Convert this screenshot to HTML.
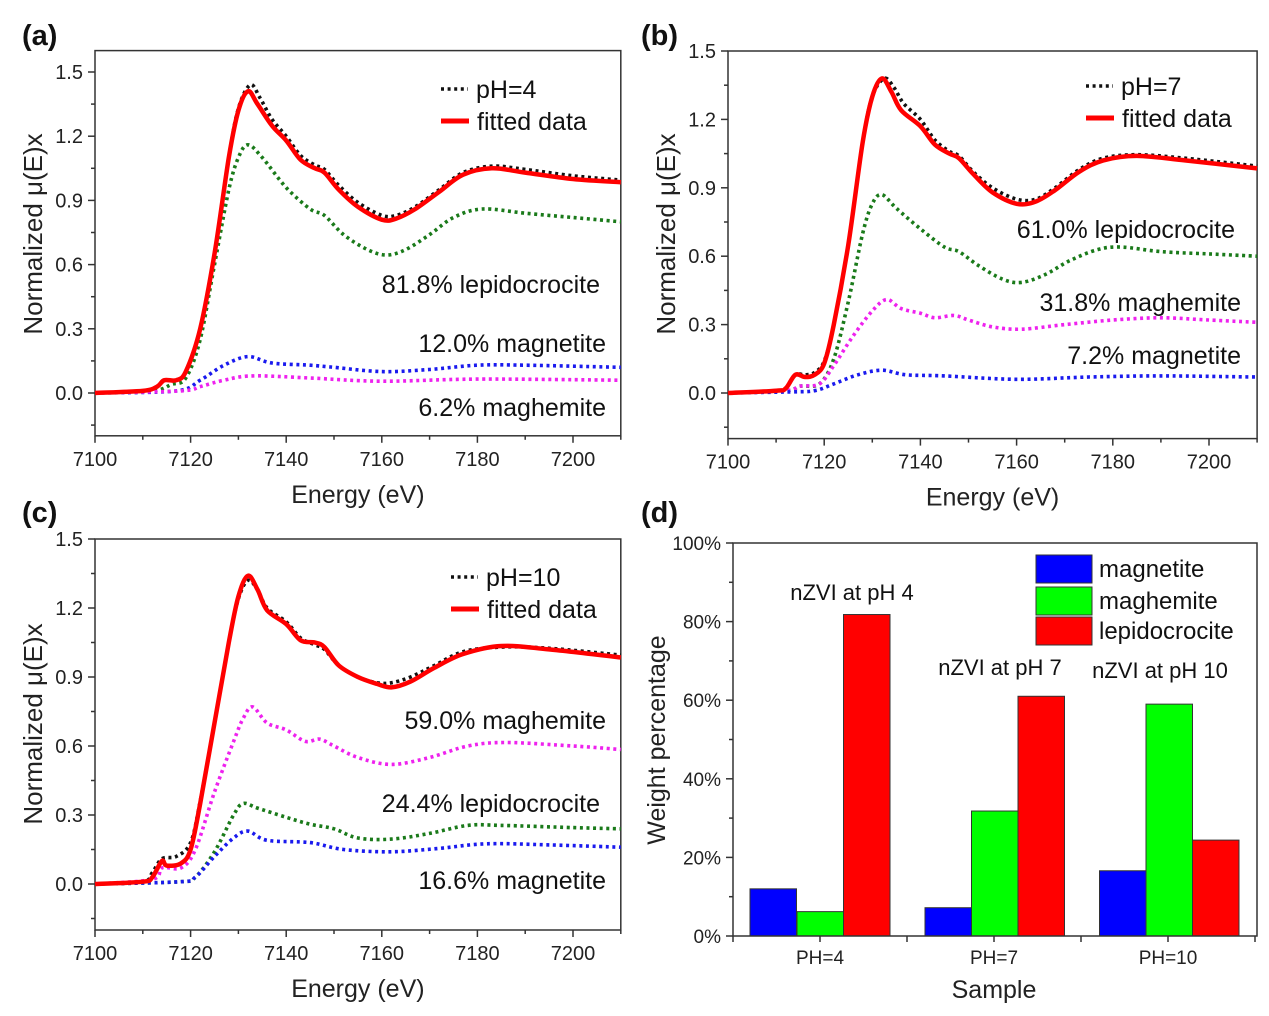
<!DOCTYPE html>
<html><head><meta charset="utf-8"><style>
html,body{margin:0;padding:0;background:#fff;}
svg{display:block;font-family:"Liberation Sans",sans-serif;}
</style></head><body>
<svg id="s" width="1269" height="1016" xmlns="http://www.w3.org/2000/svg"></svg>
<script>
const S=document.getElementById('s');let h='';
function cr(pts){let d='M'+pts[0][0].toFixed(1)+' '+pts[0][1].toFixed(1);
for(let i=0;i<pts.length-1;i++){const p0=pts[i-1]||pts[i],p1=pts[i],p2=pts[i+1],p3=pts[i+2]||p2;
const c1=[p1[0]+(p2[0]-p0[0])/6,p1[1]+(p2[1]-p0[1])/6],c2=[p2[0]-(p3[0]-p1[0])/6,p2[1]-(p3[1]-p1[1])/6];
d+=` C${c1[0].toFixed(1)} ${c1[1].toFixed(1)} ${c2[0].toFixed(1)} ${c2[1].toFixed(1)} ${p2[0].toFixed(1)} ${p2[1].toFixed(1)}`;}return d;}
function panel(P){
 const X=e=>P.x0+(e-7100)*P.sx, Y=v=>P.y0-v*P.sy;
 const L=X(7100),R=X(7210),T=Y(P.ymax),B=Y(-0.2);
 h+=`<rect x="${L}" y="${T}" width="${R-L}" height="${B-T}" fill="none" stroke="#333" stroke-width="1.5"/>`;
 for(let e=7100;e<=7210;e+=10){const x=X(e);h+=`<line x1="${x}" y1="${B}" x2="${x}" y2="${B+(e%20==0?7:4)}" stroke="#333" stroke-width="1.5"/>`;
  if(e%20==0)h+=`<text x="${x}" y="${B+30}" font-size="20" text-anchor="middle" fill="#222">${e}</text>`;}
 for(let v=-0.15;v<=P.ymax+0.001;v+=0.15){const y=Y(v);const maj=Math.abs(Math.round(v/0.3)*0.3-v)<0.01;
  h+=`<line x1="${L}" y1="${y}" x2="${L-(maj?7:4)}" y2="${y}" stroke="#333" stroke-width="1.5"/>`;
  if(maj)h+=`<text x="${L-12}" y="${y+7}" font-size="20" text-anchor="end" fill="#222">${v.toFixed(1).replace('-0.0','0.0')}</text>`;}
 h+=`<text x="${(L+R)/2}" y="${B+67}" font-size="25" text-anchor="middle" fill="#222">Energy (eV)</text>`;
 h+=`<text transform="translate(${L-53},${P.yc}) rotate(-90)" font-size="26" text-anchor="middle" fill="#222">Normalized μ(E)x</text>`;
 h+=`<text x="${P.lx}" y="${P.ly}" font-size="29" font-weight="bold" fill="#111">${P.lab}</text>`;
 for(const c of P.curves){const pts=c.p.map(q=>[X(q[0]),Y(q[1])]);
  if(c.solid)h+=`<path d="${cr(pts)}" fill="none" stroke="#f00" stroke-width="4.5" stroke-linejoin="round"/>`;
  else h+=`<path d="${cr(pts)}" fill="none" stroke="${c.c}" stroke-width="3.6" stroke-dasharray="3 3.6"/>`;}
 const g=P.leg;
 h+=`<line x1="${g[0]}" y1="${g[1]}" x2="${g[0]+27}" y2="${g[1]}" stroke="#111" stroke-width="3.6" stroke-dasharray="3 3.6"/>`;
 h+=`<text x="${g[0]+35}" y="${g[1]+9}" font-size="25" fill="#111">${P.name}</text>`;
 h+=`<line x1="${g[0]}" y1="${g[1]+32}" x2="${g[0]+28}" y2="${g[1]+32}" stroke="#f00" stroke-width="5"/>`;
 h+=`<text x="${g[0]+36}" y="${g[1]+41}" font-size="25" fill="#111">fitted data</text>`;
 for(const a of P.ann)h+=`<text x="${a[0]}" y="${a[1]}" font-size="25" text-anchor="end" fill="#111">${a[2]}</text>`;
}
// panel a
const aR=[[7100,0],[7110,0.01],[7113,0.03],[7114.5,0.06],[7117,0.06],[7119,0.1],[7122,0.3],[7125,0.65],[7128,1.1],[7130,1.32],[7132,1.41],[7134,1.35],[7137,1.25],[7140,1.18],[7143,1.09],[7146,1.05],[7148,1.03],[7151,0.95],[7155,0.87],[7160,0.81],[7163,0.815],[7167,0.86],[7172,0.94],[7177,1.02],[7183,1.05],[7190,1.03],[7200,1.0],[7210,0.985]];
const aK=[[7100,0],[7110,0.01],[7113,0.03],[7114.5,0.06],[7117,0.06],[7119,0.1],[7122,0.3],[7125,0.65],[7128,1.1],[7130,1.33],[7132.5,1.44],[7134.5,1.38],[7137,1.28],[7140,1.2],[7143,1.11],[7146,1.065],[7148,1.045],[7151,0.97],[7155,0.89],[7160,0.83],[7163,0.83],[7167,0.87],[7172,0.95],[7177,1.03],[7183,1.06],[7190,1.045],[7200,1.015],[7210,0.995]];
panel({x0:95,sx:4.78,y0:393,sy:214,ymax:1.6,yc:234,lab:'(a)',lx:22,ly:45,name:'pH=4',leg:[441,89],
 curves:[{c:'#1a7a1a',p:[[7100,0],[7112,0.01],[7116,0.04],[7119,0.07],[7122,0.25],[7125,0.6],[7128,0.95],[7130,1.1],[7132,1.16],[7135,1.1],[7140,0.96],[7145,0.86],[7148,0.83],[7152,0.74],[7157,0.67],[7161,0.645],[7165,0.67],[7170,0.74],[7175,0.82],[7181,0.86],[7190,0.84],[7200,0.82],[7210,0.8]]},
 {c:'#1a1aee',p:[[7100,0],[7117,0.01],[7122,0.06],[7127,0.13],[7132,0.17],[7137,0.14],[7145,0.13],[7150,0.12],[7160,0.1],[7170,0.11],[7180,0.13],[7190,0.13],[7210,0.12]]},
 {c:'#ee22ee',p:[[7100,0],[7118,0.01],[7122,0.03],[7127,0.06],[7133,0.08],[7145,0.07],[7160,0.055],[7180,0.065],[7210,0.06]]},
 {c:'#111',p:aK},{solid:1,p:aR}],
 ann:[[600,293,'81.8% lepidocrocite'],[606,352,'12.0% magnetite'],[606,416,'6.2% maghemite']]});
// panel b
const bR=[[7100,0],[7110,0.01],[7112,0.02],[7114,0.08],[7116,0.07],[7118,0.08],[7120,0.13],[7122,0.3],[7125,0.65],[7128,1.1],[7130,1.3],[7132,1.38],[7134,1.32],[7136,1.24],[7140,1.17],[7143,1.09],[7146,1.05],[7148,1.03],[7151,0.96],[7155,0.88],[7160,0.83],[7164,0.84],[7168,0.89],[7173,0.97],[7178,1.02],[7185,1.04],[7195,1.02],[7210,0.985]];
const bK=[[7100,0],[7110,0.01],[7112,0.02],[7114,0.08],[7116,0.08],[7118,0.09],[7120,0.14],[7122,0.3],[7125,0.65],[7128,1.1],[7130,1.3],[7132.5,1.38],[7134.5,1.34],[7136.5,1.27],[7140,1.2],[7143,1.11],[7146,1.06],[7148,1.04],[7151,0.97],[7155,0.9],[7160,0.85],[7164,0.85],[7168,0.9],[7173,0.98],[7178,1.03],[7185,1.045],[7195,1.03],[7210,0.995]];
panel({x0:728,sx:4.81,y0:393,sy:228,ymax:1.5,yc:234,lab:'(b)',lx:641,ly:45,name:'pH=7',leg:[1086,86],
 curves:[{c:'#1a7a1a',p:[[7100,0],[7112,0.01],[7115,0.03],[7119,0.04],[7122,0.15],[7125,0.4],[7128,0.7],[7130,0.83],[7132,0.87],[7135,0.81],[7140,0.72],[7145,0.64],[7148,0.62],[7152,0.56],[7157,0.5],[7161,0.485],[7166,0.52],[7171,0.58],[7177,0.63],[7182,0.64],[7190,0.62],[7200,0.61],[7210,0.6]]},
 {c:'#ee22ee',p:[[7100,0],[7112,0.01],[7115,0.03],[7119,0.04],[7122,0.12],[7126,0.25],[7130,0.36],[7133,0.41],[7136,0.37],[7140,0.35],[7143,0.33],[7147,0.34],[7150,0.32],[7155,0.29],[7161,0.28],[7170,0.3],[7180,0.32],[7190,0.33],[7200,0.32],[7210,0.31]]},
 {c:'#1a1aee',p:[[7100,0],[7113,0.005],[7118,0.01],[7122,0.04],[7127,0.08],[7132,0.1],[7137,0.08],[7145,0.075],[7160,0.06],[7175,0.07],[7190,0.075],[7210,0.07]]},
 {c:'#111',p:bK},{solid:1,p:bR}],
 ann:[[1235,238,'61.0% lepidocrocite'],[1241,311,'31.8% maghemite'],[1241,364,'7.2% magnetite']]});
// panel c
const cR=[[7100,0],[7110,0.01],[7112,0.03],[7114,0.1],[7115,0.08],[7118,0.09],[7120,0.15],[7122,0.35],[7125,0.7],[7128,1.05],[7130,1.25],[7132,1.34],[7134,1.28],[7136,1.19],[7140,1.13],[7143,1.06],[7146,1.05],[7148,1.03],[7151,0.95],[7155,0.9],[7159,0.87],[7162,0.855],[7166,0.88],[7171,0.94],[7177,1.0],[7185,1.035],[7195,1.02],[7210,0.985]];
const cK=[[7100,0],[7110,0.01],[7112,0.05],[7114,0.11],[7117,0.12],[7120,0.18],[7122,0.36],[7125,0.7],[7128,1.05],[7130,1.24],[7132,1.32],[7134,1.28],[7136,1.2],[7140,1.14],[7143,1.07],[7146,1.04],[7148,1.02],[7151,0.95],[7155,0.9],[7159,0.875],[7162,0.875],[7166,0.9],[7171,0.95],[7177,1.01],[7185,1.03],[7195,1.025],[7210,0.995]];
panel({x0:95,sx:4.78,y0:884,sy:230,ymax:1.5,yc:724,lab:'(c)',lx:22,ly:522,name:'pH=10',leg:[451,577],
 curves:[{c:'#ee22ee',p:[[7100,0],[7112,0.02],[7114,0.07],[7118,0.07],[7121,0.15],[7125,0.4],[7129,0.62],[7131,0.72],[7133,0.77],[7136,0.7],[7140,0.67],[7144,0.62],[7147,0.63],[7150,0.6],[7155,0.55],[7162,0.52],[7170,0.55],[7178,0.6],[7186,0.615],[7200,0.6],[7210,0.585]]},
 {c:'#1a7a1a',p:[[7100,0],[7118,0.01],[7121,0.03],[7125,0.14],[7129,0.3],[7131,0.35],[7134,0.33],[7140,0.29],[7145,0.26],[7150,0.24],[7155,0.2],[7162,0.195],[7170,0.22],[7178,0.255],[7185,0.255],[7200,0.245],[7210,0.24]]},
 {c:'#1a1aee',p:[[7100,0],[7118,0.01],[7121,0.03],[7125,0.12],[7129,0.2],[7132,0.23],[7136,0.19],[7145,0.18],[7152,0.15],[7162,0.14],[7172,0.155],[7182,0.175],[7195,0.17],[7210,0.16]]},
 {c:'#111',p:cK},{solid:1,p:cR}],
 ann:[[606,729,'59.0% maghemite'],[600,812,'24.4% lepidocrocite'],[606,889,'16.6% magnetite']]});
// panel d
{const L=733,R=1257,T=543,B=936,Y=p=>B-(B-T)*p/100;
h+=`<text x="641" y="522" font-size="29" font-weight="bold" fill="#111">(d)</text>`;
const bars=[[750,12.0,'#0000ff'],[797,6.2,'#00ff00'],[843.5,81.8,'#ff0000'],[925,7.2,'#0000ff'],[971.5,31.8,'#00ff00'],[1018,61.0,'#ff0000'],[1099.5,16.6,'#0000ff'],[1146,59.0,'#00ff00'],[1192.5,24.4,'#ff0000']];
for(const b of bars)h+=`<rect x="${b[0]}" y="${Y(b[1])}" width="46.5" height="${B-Y(b[1])}" fill="${b[2]}" stroke="#333" stroke-width="1"/>`;
h+=`<rect x="${L}" y="${T}" width="${R-L}" height="${B-T}" fill="none" stroke="#333" stroke-width="1.5"/>`;
for(let p=0;p<=100;p+=10){const y=Y(p);h+=`<line x1="${L}" y1="${y}" x2="${L-(p%20==0?7:4)}" y2="${y}" stroke="#333" stroke-width="1.5"/>`;
 if(p%20==0)h+=`<text x="${L-12}" y="${y+7}" font-size="19" text-anchor="end" fill="#222">${p}%</text>`;}
for(const x of [733,820,907,994,1081,1168,1255])h+=`<line x1="${x}" y1="${B}" x2="${x}" y2="${B+6}" stroke="#333" stroke-width="1.5"/>`;
[[820,'PH=4'],[994,'PH=7'],[1168,'PH=10']].forEach(a=>h+=`<text x="${a[0]}" y="${B+28}" font-size="19" text-anchor="middle" fill="#222">${a[1]}</text>`);
h+=`<text x="994" y="${B+62}" font-size="25" text-anchor="middle" fill="#222">Sample</text>`;
h+=`<text transform="translate(665,740) rotate(-90)" font-size="25" text-anchor="middle" fill="#222">Weight percentage</text>`;
[[555,'#0000ff','magnetite'],[587,'#00ff00','maghemite'],[617,'#ff0000','lepidocrocite']].forEach(l=>{
 h+=`<rect x="1036" y="${l[0]}" width="56" height="28" fill="${l[1]}" stroke="#333" stroke-width="1"/>`;
 h+=`<text x="1099" y="${l[0]+22}" font-size="24" fill="#111">${l[2]}</text>`;});
h+=`<text x="852" y="600" font-size="22" text-anchor="middle" fill="#111">nZVI at pH 4</text>`;
h+=`<text x="1000" y="675" font-size="22" text-anchor="middle" fill="#111">nZVI at pH 7</text>`;
h+=`<text x="1160" y="678" font-size="22" text-anchor="middle" fill="#111">nZVI at pH 10</text>`;}
S.innerHTML=h;
</script>
</body></html>
